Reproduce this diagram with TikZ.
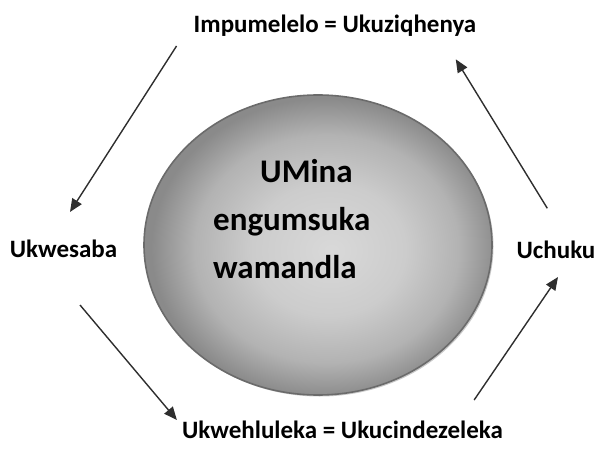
\documentclass[tikz,border=0pt]{standalone}
\usepackage{fontspec}
\setmainfont{Carlito}
\usetikzlibrary{arrows.meta,shapes.geometric,shadows}

\pgfdeclareradialshading{hubglow}{\pgfpoint{2bp}{-1bp}}{%
  color(0bp)=(black!15); color(11bp)=(black!20); color(19bp)=(black!30);
  color(25bp)=(black!46); color(50bp)=(black!46)}

\begin{document}
\begin{tikzpicture}[
  x=1pt, y=1pt,
  >={Triangle[length=13pt,width=11pt]},
  hubshape/.style={ellipse, inner sep=0pt, minimum width=348pt, minimum height=300pt,
    draw=black!58, line width=1.6pt, shading=hubglow,
    drop shadow={shadow xshift=1.5pt, shadow yshift=-1.5pt, fill=black!35, opacity=.6}},
  corefont/.style={font=\bfseries\fontsize{33}{48}\selectfont, align=left, inner sep=0pt},
  stage/.style={font=\bfseries\fontsize{25}{30}\selectfont, inner sep=0pt},
  cycle/.style={->, draw=black!82, line width=1.4pt}
]
\useasboundingbox (0,0) rectangle (596,451);

% centre
\node[hubshape] (hub) at (318,206) {};
\node[corefont, anchor=north west] (core) at (213,292)
  {\hspace*{47pt}UMina\\engumsuka\\wamandla};

% the four stages
\node[stage, anchor=base] (success) at (335,418) {Impumelelo = Ukuziqhenya};
\node[stage, anchor=base] (fear) at (63.5,194) {Ukwesaba};
\node[stage, anchor=base] (defeat) at (342.5,13) {Ukwehluleka = Ukucindezeleka};
\node[stage, anchor=base] (anger) at (556,193) {Uchuku};

% round the cycle
\draw[cycle] ([shift={(-17,-13)}]success.base west) -- ([shift={(6.5,45)}]fear.base);
\draw[cycle] ([shift={(16.5,-48)}]fear.base) -- ([shift={(-5,18)}]defeat.base west);
\draw[cycle] ([shift={(-29,38)}]defeat.base east) -- ([shift={(2,-19)}]anger.base);
\draw[cycle] ([shift={(-8.7,49.7)}]anger.base) -- ([shift={(-20.7,-26.3)}]success.base east);

\end{tikzpicture}
\end{document}
